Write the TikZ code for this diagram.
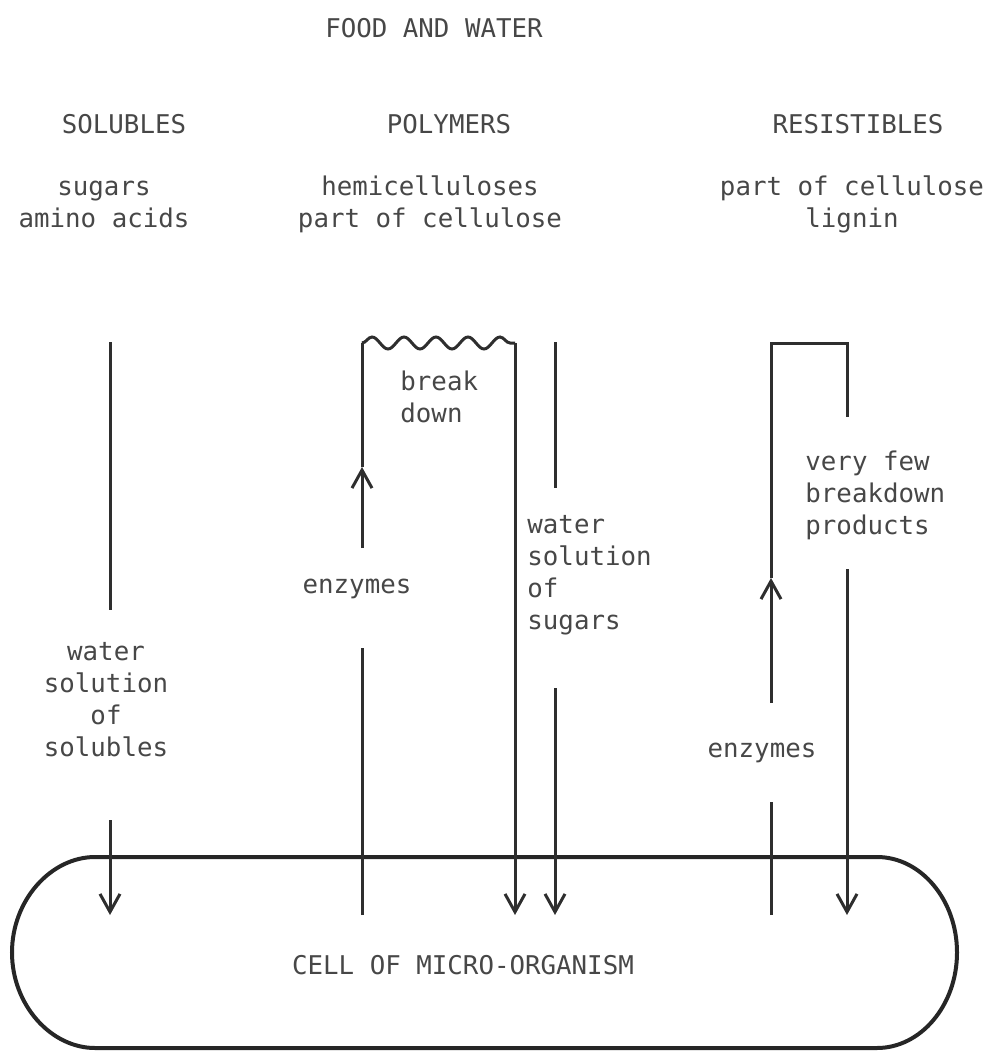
\documentclass[tikz,border=0pt]{standalone}
\usepackage{fontspec}
\setmonofont{DejaVu Sans Mono}
\usetikzlibrary{arrows.meta,decorations.pathmorphing}
\begin{document}
\begin{tikzpicture}[x=0.5pt,y=-0.5pt,
  lbl/.style={font=\ttfamily\fontsize{12.9}{16}\selectfont, text=black!72, inner sep=0pt},
  ln/.style={draw=black!82, line width=1.5pt},
  arr/.style={ln, -{Straight Barb[length=9pt,width=10pt]}},
  cellline/.style={draw=black!85, line width=2pt}]
\useasboundingbox (0,0) rectangle (988,1053);
% text nodes
\node[lbl] (title) at (434,28) {FOOD AND WATER};
\node[lbl] (solH) at (124,124) {SOLUBLES};
\node[lbl] (polH) at (449,124) {POLYMERS};
\node[lbl] (resH) at (858,124) {RESISTIBLES};
\node[lbl, align=center] (solSub) at (104,204) {sugars\\amino acids};
\node[lbl, align=center] (polSub) at (430,204) {hemicelluloses\\part of cellulose};
\node[lbl, align=center] (resSub) at (852,204) {part of cellulose\\lignin};
\node[lbl, align=center] (solText) at (106,700) {water\\solution\\of\\solubles};
\node[lbl, align=left, anchor=west] (brk) at (400,397) {break\\down};
\node[lbl] (polEnz) at (357,589) {enzymes};
\node[lbl, align=left, anchor=west] (sugText) at (527,575) {water\\solution\\of\\sugars};
\node[lbl, align=left, anchor=west] (fewText) at (805,495) {very few\\breakdown\\products};
\node[lbl] (resEnz) at (762,753) {enzymes};
\node[lbl] (cellLbl) at (463,965) {CELL OF MICRO-ORGANISM};
% coordinates
\coordinate (s1) at (110,342); \coordinate (s2) at (110,610);
\coordinate (s3) at (110,820); \coordinate (s4) at (110,915);
\coordinate (pa) at (362,915); \coordinate (pb) at (362,648);
\coordinate (pc) at (362,548); \coordinate (pd) at (362,467);
\coordinate (pe) at (362,343); \coordinate (pf) at (515,343);
\coordinate (pg) at (515,915);
\coordinate (w1) at (555,342); \coordinate (w2) at (555,488);
\coordinate (w3) at (555,688); \coordinate (w4) at (555,915);
\coordinate (ra) at (771,915); \coordinate (rb) at (771,802);
\coordinate (rc) at (771,703); \coordinate (rd) at (771,578);
\coordinate (re) at (771,343); \coordinate (rf) at (847,343);
\coordinate (rg) at (847,417); \coordinate (rh) at (847,569);
\coordinate (ri) at (847,915);
% cell
\draw[cellline] (95,857) -- (877,857)
  .. controls (921,857) and (957,900) .. (957,952.5)
  .. controls (957,1005) and (921,1048) .. (877,1048)
  -- (95,1048)
  .. controls (51,1048) and (12,1005) .. (12,952.5)
  .. controls (12,900) and (51,857) .. (95,857) -- cycle;
% solubles
\draw[ln] (s1) -- (s2);
\draw[arr] (s3) -- (s4);
% polymers
\draw[ln] (pa) -- (pb);
\draw[arr] (pc) -- (pd);
\draw[ln, line join=round] (pd) -- (pe);
\draw[ln, decorate, decoration={snake, segment length=16pt, amplitude=3pt}] (pe) -- (pf);
\draw[arr] (pf) -- (pg);
% sugars
\draw[ln] (w1) -- (w2);
\draw[arr] (w3) -- (w4);
% resistibles
\draw[ln] (ra) -- (rb);
\draw[arr] (rc) -- (rd);
\draw[ln, line join=miter] (rd) -- (re) -- (rf) -- (rg);
\draw[arr] (rh) -- (ri);
\end{tikzpicture}
\end{document}
